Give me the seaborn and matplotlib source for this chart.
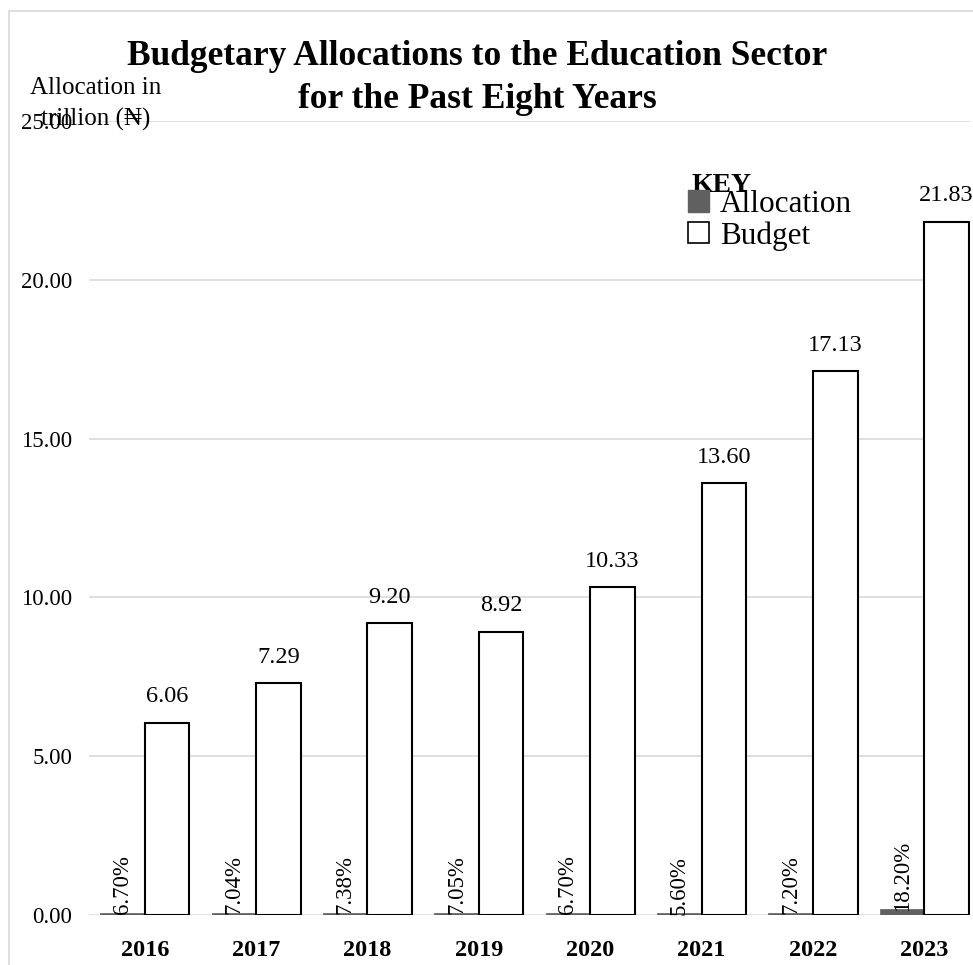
import matplotlib
matplotlib.use("Agg")
import matplotlib.pyplot as plt
import seaborn as sns
import pandas as pd
from matplotlib.patches import Patch, Rectangle

years = ["2016", "2017", "2018", "2019", "2020", "2021", "2022", "2023"]
budget = [6.06, 7.29, 9.20, 8.92, 10.33, 13.60, 17.13, 21.83]
allocation_share = [0.0670, 0.0704, 0.0738, 0.0705, 0.0670, 0.0560, 0.0720, 0.1820]
series_names = ["Allocation", "Budget"]
yticks = [0, 5, 10, 15, 20, 25]

sns.set_theme(style="white")
plt.rcParams["font.family"] = ["Liberation Serif", "DejaVu Serif"]
plt.rcParams["text.color"] = "black"
plt.rcParams["xtick.color"] = "black"
plt.rcParams["ytick.color"] = "black"
plt.rcParams["axes.labelcolor"] = "black"

df = pd.DataFrame({
    "Year": years * 2,
    "Series": [series_names[0]] * len(years) + [series_names[1]] * len(years),
    "Value": allocation_share + budget,
})

W, H = 973, 965
fig = plt.figure(figsize=(W / 100, H / 100), dpi=100)
ax = fig.add_axes([89 / W, 1 - 915 / H, (970 - 89) / W, (915 - 121) / H])

sns.barplot(data=df, x="Year", y="Value", hue="Series", order=years,
            hue_order=series_names,
            palette={"Allocation": "#606060", "Budget": "white"},
            width=0.8, ax=ax, legend=False, saturation=1)

alloc_c, budget_c = ax.containers[0], ax.containers[1]
for p in alloc_c:
    p.set_edgecolor("#606060")
    p.set_linewidth(0.5)
for p in budget_c:
    p.set_edgecolor("black")
    p.set_linewidth(1.5)

ax.bar_label(budget_c, labels=[f"{v:.2f}" for v in budget], padding=11,
             fontsize=17.5, color="black")
ax.bar_label(alloc_c, labels=[f"{v*100:.2f}%" for v in allocation_share],
             padding=-1, rotation=90, fontsize=16.5, color="black")

ax.set_ylim(0, 25)
ax.set_xlim(-0.5, 7.41)
ax.set_yticks(yticks)
ax.set_yticklabels([f"{t:.2f}" for t in yticks], fontsize=16.5)
ax.tick_params(axis="y", length=0, pad=12)
ax.tick_params(axis="x", length=0, pad=18, labelsize=17.5)
for lab in ax.get_xticklabels():
    lab.set_fontweight("bold")
ax.set_xlabel("")
ax.set_ylabel("")
ax.grid(axis="y", color="#d9d9d9", linewidth=1.2)
ax.set_axisbelow(True)
for s in ax.spines.values():
    s.set_visible(False)

# Title
fig.text(477 / W, 1 - 78 / H,
         "Budgetary Allocations to the Education Sector\nfor the Past Eight Years",
         ha="center", va="center", fontsize=25.5, fontweight="bold",
         linespacing=1.42)

# Y label
fig.text(96 / W, 1 - 104 / H, "Allocation in\ntrillion (₦)", ha="center",
         va="center", fontsize=18, linespacing=1.45)

# Legend
handles = [Patch(facecolor="#606060", edgecolor="#606060"),
           Patch(facecolor="white", edgecolor="black", linewidth=1.2)]
leg = fig.legend(handles, series_names, loc="upper left",
                 bbox_to_anchor=(688 / W, 1 - 190 / H), frameon=False,
                 fontsize=22.5, handlelength=0.67, handleheight=0.67,
                 handletextpad=0.35, labelspacing=0.07, borderpad=0,
                 borderaxespad=0)
fig.text(692 / W, 1 - 185 / H, "KEY", ha="left", va="center",
         fontsize=20, fontweight="bold")

# Frame border
fig.patches.append(Rectangle((9 / W, -0.05), 1.1, 1 - 11 / H + 0.05,
                             transform=fig.transFigure, fill=False,
                             edgecolor="#d9d9d9", linewidth=1.2))

fig.savefig("out.png", dpi=100)
